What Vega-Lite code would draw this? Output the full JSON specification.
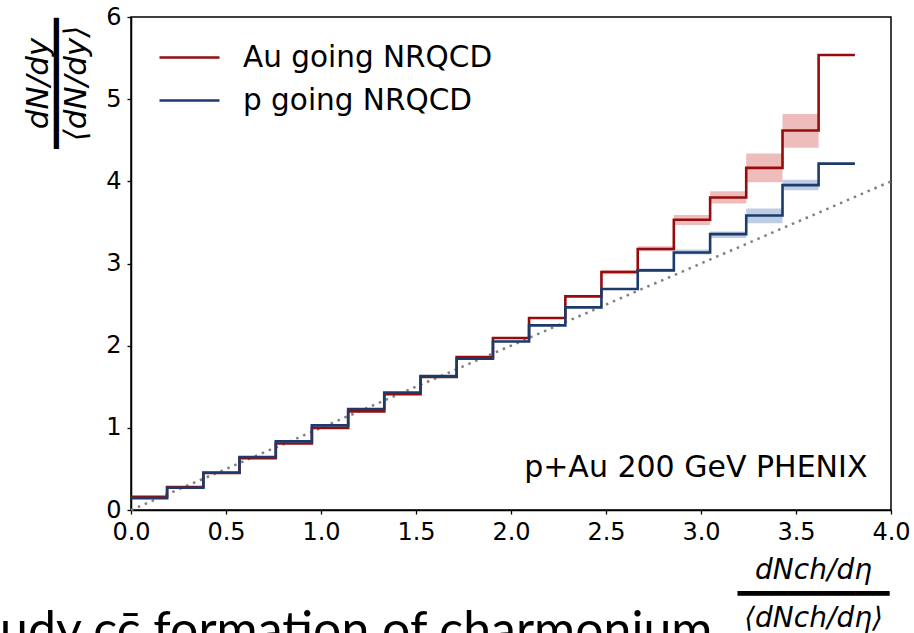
{
  "$schema": "https://vega.github.io/schema/vega-lite/v6.json",
  "width": 760,
  "height": 493,
  "autosize": {"type": "none"},
  "padding": {"left": 131, "top": 17, "right": 23, "bottom": 123},
  "background": "white",
  "config": {
    "view": {"stroke": "black", "strokeWidth": 1.5},
    "font": "DejaVu Sans",
    "axis": {
      "grid": false,
      "domainColor": "black",
      "domainWidth": 1.5,
      "tickColor": "black",
      "tickWidth": 1.3,
      "tickSize": 4,
      "labelFont": "DejaVu Sans",
      "labelFontSize": 24,
      "labelColor": "black",
      "labelFlush": false,
      "titleColor": "black",
      "titleFont": "DejaVu Sans",
      "titleFontWeight": "normal",
      "titleFontStyle": "italic"
    }
  },
  "title": {
    "text": "udy cc̄ formation of charmonium",
    "orient": "bottom",
    "anchor": "start",
    "frame": "group",
    "font": "Lato",
    "fontSize": 50,
    "fontWeight": "normal",
    "color": "black",
    "dx": -131,
    "dy": -29
  },
  "datasets": {
    "steps": [
      {"x": 0, "y": 0.16, "s": "Au going NRQCD"},
      {"x": 0.19, "y": 0.28, "s": "Au going NRQCD"},
      {"x": 0.381, "y": 0.45, "s": "Au going NRQCD"},
      {"x": 0.571, "y": 0.63, "s": "Au going NRQCD"},
      {"x": 0.762, "y": 0.81, "s": "Au going NRQCD"},
      {"x": 0.952, "y": 1.0, "s": "Au going NRQCD"},
      {"x": 1.143, "y": 1.2, "s": "Au going NRQCD"},
      {"x": 1.333, "y": 1.41, "s": "Au going NRQCD"},
      {"x": 1.524, "y": 1.62, "s": "Au going NRQCD"},
      {"x": 1.714, "y": 1.86, "s": "Au going NRQCD"},
      {"x": 1.905, "y": 2.094, "s": "Au going NRQCD"},
      {"x": 2.095, "y": 2.337, "s": "Au going NRQCD"},
      {"x": 2.286, "y": 2.6, "s": "Au going NRQCD"},
      {"x": 2.476, "y": 2.896, "s": "Au going NRQCD"},
      {"x": 2.667, "y": 3.176, "s": "Au going NRQCD"},
      {"x": 2.857, "y": 3.532, "s": "Au going NRQCD"},
      {"x": 3.048, "y": 3.803, "s": "Au going NRQCD"},
      {"x": 3.238, "y": 4.164, "s": "Au going NRQCD"},
      {"x": 3.429, "y": 4.618, "s": "Au going NRQCD"},
      {"x": 3.619, "y": 5.538, "s": "Au going NRQCD"},
      {"x": 3.81, "y": 5.538, "s": "Au going NRQCD"},
      {"x": 0, "y": 0.145, "s": "p going NRQCD"},
      {"x": 0.19, "y": 0.27, "s": "p going NRQCD"},
      {"x": 0.381, "y": 0.455, "s": "p going NRQCD"},
      {"x": 0.571, "y": 0.645, "s": "p going NRQCD"},
      {"x": 0.762, "y": 0.835, "s": "p going NRQCD"},
      {"x": 0.952, "y": 1.03, "s": "p going NRQCD"},
      {"x": 1.143, "y": 1.23, "s": "p going NRQCD"},
      {"x": 1.333, "y": 1.43, "s": "p going NRQCD"},
      {"x": 1.524, "y": 1.63, "s": "p going NRQCD"},
      {"x": 1.714, "y": 1.84, "s": "p going NRQCD"},
      {"x": 1.905, "y": 2.05, "s": "p going NRQCD"},
      {"x": 2.095, "y": 2.247, "s": "p going NRQCD"},
      {"x": 2.286, "y": 2.466, "s": "p going NRQCD"},
      {"x": 2.476, "y": 2.689, "s": "p going NRQCD"},
      {"x": 2.667, "y": 2.916, "s": "p going NRQCD"},
      {"x": 2.857, "y": 3.134, "s": "p going NRQCD"},
      {"x": 3.048, "y": 3.358, "s": "p going NRQCD"},
      {"x": 3.238, "y": 3.584, "s": "p going NRQCD"},
      {"x": 3.429, "y": 3.954, "s": "p going NRQCD"},
      {"x": 3.619, "y": 4.216, "s": "p going NRQCD"},
      {"x": 3.81, "y": 4.216, "s": "p going NRQCD"}
    ],
    "bands": [
      {"x": 2.476, "x2": 2.667, "lo": 2.87, "hi": 2.92, "band": "Au band"},
      {"x": 2.667, "x2": 2.857, "lo": 3.15, "hi": 3.21, "band": "Au band"},
      {"x": 2.857, "x2": 3.048, "lo": 3.47, "hi": 3.59, "band": "Au band"},
      {"x": 3.048, "x2": 3.238, "lo": 3.73, "hi": 3.88, "band": "Au band"},
      {"x": 3.238, "x2": 3.429, "lo": 3.99, "hi": 4.34, "band": "Au band"},
      {"x": 3.429, "x2": 3.619, "lo": 4.41, "hi": 4.82, "band": "Au band"},
      {"x": 2.667, "x2": 2.857, "lo": 2.9, "hi": 2.94, "band": "p band"},
      {"x": 2.857, "x2": 3.048, "lo": 3.11, "hi": 3.17, "band": "p band"},
      {"x": 3.048, "x2": 3.238, "lo": 3.31, "hi": 3.39, "band": "p band"},
      {"x": 3.238, "x2": 3.429, "lo": 3.49, "hi": 3.67, "band": "p band"},
      {"x": 3.429, "x2": 3.619, "lo": 3.89, "hi": 4.02, "band": "p band"}
    ],
    "diag": [{"x": 0, "y": 0}, {"x": 4, "y": 4}],
    "note": [{"x": 3.876, "y": 0.4, "t": "p+Au 200 GeV PHENIX"}]
  },
  "resolve": {"scale": {"fill": "independent", "color": "independent"}, "legend": {"fill": "independent", "color": "independent"}},
  "layer": [
    {
      "data": {"name": "bands"},
      "mark": {"type": "rect", "opacity": 1},
      "encoding": {
        "x": {"field": "x", "type": "quantitative", "scale": {"domain": [0, 4], "nice": false, "zero": false},
          "axis": {
            "values": [0, 0.5, 1, 1.5, 2, 2.5, 3, 3.5, 4],
            "format": ".1f",
            "labelPadding": 6,
            "title": ["dNch/dη", "━━━━━━━━━", "⟨dNch/dη⟩"],
            "titleFontSize": 28,
            "titleLineHeight": 24,
            "titleX": 682,
            "titleY": 68,
            "titleAlign": "center",
            "titleBaseline": "alphabetic"
          }},
        "x2": {"field": "x2"},
        "y": {"field": "lo", "type": "quantitative", "scale": {"domain": [0, 6], "nice": false},
          "axis": {
            "values": [0, 1, 2, 3, 4, 5, 6],
            "format": "d",
            "labelPadding": 6,
            "title": ["dN/dy", "━━━━━━━", "⟨dN/dy⟩"],
            "titleFontSize": 31,
            "titleLineHeight": 19,
            "titleAngle": 270,
            "titleX": -84,
            "titleY": 66,
            "titleAlign": "center",
            "titleBaseline": "alphabetic"
          }},
        "y2": {"field": "hi"},
        "fill": {"field": "band", "type": "nominal", "legend": null,
          "scale": {"domain": ["Au band", "p band"], "range": ["#efbcbc", "#bfcde4"]}}
      }
    },
    {
      "data": {"name": "diag"},
      "mark": {"type": "line", "color": "#808080", "strokeWidth": 2.5, "strokeDash": [2.5, 5], "strokeCap": "butt"},
      "encoding": {
        "x": {"field": "x", "type": "quantitative"},
        "y": {"field": "y", "type": "quantitative"}
      }
    },
    {
      "data": {"name": "steps"},
      "mark": {"type": "line", "interpolate": "step-after", "strokeWidth": 2.6},
      "encoding": {
        "x": {"field": "x", "type": "quantitative"},
        "y": {"field": "y", "type": "quantitative"},
        "color": {"field": "s", "type": "nominal",
          "scale": {"domain": ["Au going NRQCD", "p going NRQCD"], "range": ["#960c0c", "#1c3b6a"]},
          "legend": {
            "title": null,
            "orient": "none",
            "legendX": 27,
            "legendY": 20,
            "padding": 0,
            "symbolType": "stroke",
            "symbolSize": 3600,
            "symbolStrokeWidth": 2.6,
            "clipHeight": 41,
            "rowPadding": 2,
            "labelOffset": 22,
            "labelFont": "DejaVu Sans",
            "labelFontSize": 29.5,
            "labelColor": "black",
            "labelLimit": 500
          }}
      }
    },
    {
      "data": {"name": "note"},
      "mark": {"type": "text", "align": "right", "baseline": "alphabetic", "font": "DejaVu Sans", "fontSize": 30, "color": "black"},
      "encoding": {
        "x": {"field": "x", "type": "quantitative"},
        "y": {"field": "y", "type": "quantitative"},
        "text": {"field": "t"}
      }
    }
  ]
}
